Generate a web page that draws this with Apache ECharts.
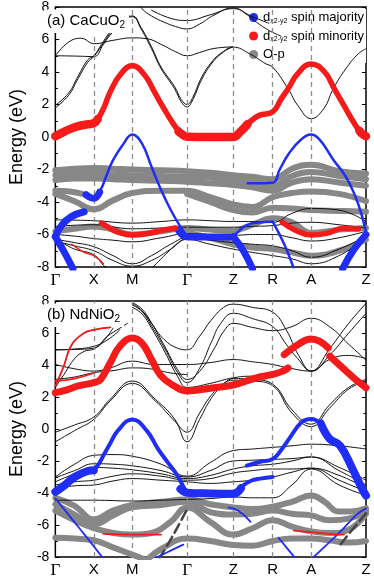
<!DOCTYPE html>
<html>
<head>
<meta charset="utf-8">
<script src="https://cdn.jsdelivr.net/npm/echarts@6/dist/echarts.min.js"></script>
<style>
  html, body { margin: 0; padding: 0; background: #fff; }
  #main { width: 374px; height: 579px; }
</style>
</head>
<body>
<div id="main"></div>
<script>
// k-path (distances along the path)
const kPos = [0, 40, 80, 137, 185, 226, 266, 323];
const kLabels = ['Γ', 'X', 'M', 'Γ', 'Z', 'R', 'A', 'Z'];
const eMin = -8, eMax = 8, eStep = 2;

// ---------- (a) CaCuO2 ----------
const aBlack = [
  [[0,1.8],[13.7,2.56],[23.7,3.6],[33.7,4.6],[40,4.95],[48,5.6],[56,6.3],[66,7.0],[80,7.4],[89,6.66],[100,5.43],[110,4.2],[124,2.97],[131,2.15],[137,1.85],[143,2.3],[151,3.4],[161,4.4],[172,5.1],[185,5.53],[202,5.12],[219,4.5],[226,4.3],[242,2.97],[252,1.95],[266,1.13],[279,1.74],[289,2.97],[302,4.2],[315,5.12],[323,5.43]],
  [[0,1.95],[13.7,2.7],[23.7,3.75],[33.7,4.75],[40,5.0],[48,5.7],[56,6.4],[66,7.1],[80,7.45],[89,6.75],[100,5.55],[110,4.3],[124,3.1],[131,2.3],[137,2.0],[143,2.45],[151,3.55],[161,4.5],[172,5.15],[185,5.55]],
  [[0,5.0],[14,5.85],[27,6.08],[40,5.74],[60,5.95],[80,6.1],[95,6.05],[110,5.7],[125,5.25],[137,5.0],[150,5.2],[165,5.45],[185,5.55]],
  [[0,5.0],[20,4.98],[40,4.95],[50,5.7],[56,6.2],[62,6.6]],
  [[86,8.3],[90,7.9],[100,7.45],[113,7.07],[125,6.8],[137,6.65],[150,6.95],[165,7.5],[185,7.95],[200,7.5],[209,7.07],[222,6.56],[235,6.2]],
  [[100,7.8],[120,7.3],[137,7.17],[160,7.5],[185,7.9],[205,7.4],[222,7.0]],
  [[0,-5.1],[40,-5.15],[80,-5.3],[110,-5.2],[137,-5.1],[161,-5.15],[185,-5.2],[205,-5.2],[226,-5.25],[246,-4.7],[266,-4.4],[295,-4.5],[323,-5.2]],
  [[0,-5.5],[40,-5.4],[80,-5.65],[110,-5.6],[137,-5.55],[161,-5.55],[185,-5.55],[205,-5.5],[226,-5.45],[246,-5.3],[266,-5.25],[295,-5.4],[323,-5.6]],
  [[0,-6.0],[20,-6.1],[40,-6.25],[60,-6.35],[80,-6.45],[110,-6.2],[137,-5.95],[161,-6.0],[185,-6.05],[205,-6.0],[226,-6.0],[246,-6.2],[266,-6.4],[295,-6.2],[323,-5.8]],
  [[0,-6.3],[20,-6.5],[40,-6.75],[60,-7.3],[80,-7.8],[100,-7.3],[120,-6.6],[137,-6.2],[161,-6.35],[185,-6.5],[205,-6.6],[226,-6.7],[246,-7.0],[266,-7.4],[295,-6.9],[323,-6.1]],
  [[0,-6.4],[20,-6.7],[40,-7.0],[60,-7.6],[80,-7.95],[100,-7.6],[120,-6.9],[137,-6.3],[161,-6.6],[185,-6.9],[205,-7.1],[226,-7.3],[246,-7.5],[266,-7.8],[295,-7.3],[323,-6.2]],
  [[0,-6.3],[10,-6.6],[20,-6.9],[40,-7.25],[50,-7.9],[55,-8.1]],
  [[100,-8.1],[115,-7.2],[130,-6.4],[137,-6.2]]
];
const aGray = [
  [[0,-2.05],[20,-1.95],[40,-1.9],[60,-1.95],[80,-2.0],[110,-2.05],[137,-2.1],[161,-2.2],[185,-2.35],[205,-2.45],[226,-2.6],[246,-1.95],[266,-1.7],[295,-2.1],[323,-2.25]],
  [[0,-2.35],[20,-2.25],[40,-2.25],[60,-2.3],[80,-2.35],[110,-2.4],[137,-2.45],[161,-2.5],[185,-2.65],[205,-2.75],[226,-3.0],[246,-2.4],[266,-2.15],[295,-2.4],[323,-2.6]],
  [[0,-2.65],[20,-2.55],[40,-2.55],[60,-2.6],[80,-2.65],[110,-2.7],[137,-2.75],[161,-2.85],[185,-2.95],[205,-3.1],[226,-3.3],[246,-2.8],[266,-2.6],[295,-2.8],[323,-3.0]],
  [[0,-3.3],[15,-3.35],[28,-3.5],[34,-3.65]],
  [[0,-3.5],[20,-3.95],[40,-4.45],[60,-3.9],[80,-3.45],[110,-3.3],[137,-3.3],[161,-3.7],[185,-4.15],[205,-4.3],[226,-3.7],[246,-3.45],[266,-3.35],[295,-3.5],[323,-3.95]],
  [[137,-3.5],[161,-4.0],[185,-4.5],[205,-4.65],[226,-4.35],[246,-4.4],[266,-4.5],[295,-4.55],[323,-4.6]],
  [[0,-5.8],[20,-5.65],[40,-5.5],[60,-5.7],[80,-6.0],[110,-5.8],[137,-5.6],[161,-5.7],[185,-5.75],[205,-5.4],[226,-5.0],[246,-5.25],[266,-5.9],[295,-5.7],[323,-5.6]],
  [[137,-5.9],[161,-6.2],[185,-6.6],[205,-6.8],[226,-6.9],[246,-7.1],[266,-7.3],[295,-7.0],[323,-6.3]]
];
const aRed = [
  [[0,0.05],[10,0.35],[20,0.6],[30,0.75],[40,0.85],[44,1.1],[50,1.74],[57,2.77],[67,3.8],[80,4.4],[93,3.8],[103,2.77],[113,1.74],[124,0.7],[131,0.2],[137,0.02],[160,0.0],[185,0.0],[192,0.3],[202,0.92],[212,1.33],[226,1.55],[235,2.36],[242,2.97],[252,3.9],[266,4.5],[280,4.0],[290,2.97],[300,1.95],[310,0.92],[318,0.25],[323,0.05]],
  [[48,-5.3],[55,-5.55],[65,-5.85],[80,-6.03],[95,-5.95],[110,-5.75],[125,-5.6]],
  [[236,-5.25],[250,-5.75],[266,-6.03],[282,-5.93],[300,-5.62],[315,-5.66]]
];
const aRedFat = [
  [[0,0.05],[10,0.35],[20,0.6],[30,0.75],[40,0.85],[44,1.1]],
  [[128,0.35],[131,0.2],[137,0.02],[160,0.0],[185,0.0],[192,0.3],[200,0.8]],
  [[316,0.4],[318,0.25],[323,0.05]]
];
const aRedThin = [
  [[17,-6.6],[30,-7.1],[40,-7.3],[50,-7.8]]
];
const aBlue = [
  [[30,-3.47],[40,-3.77],[47,-3.26],[54,-2.24],[60,-1.42],[70,-0.49],[80,0.15],[90,-0.39],[100,-1.83],[110,-3.26],[120,-4.49],[130,-5.52],[137,-6.1]],
  [[185,-6.13],[192,-5.72],[199,-5.42],[209,-5.27],[226,-5.21]],
  [[200,-2.85],[226,-2.81],[233,-2.03],[243,-1.0],[255,-0.18],[266,0.15],[275,-0.18],[289,-1.4],[302,-2.44],[312,-3.67],[319,-4.9],[323,-5.9]],
  [[226,-5.21],[238,-6.6],[248,-8.1]]
];
const aBlueFat = [
  [[128,-5.75],[137,-6.15],[160,-6.15],[185,-6.15]],
  [[0,-6.13],[10,-7.16],[18.3,-8.1]],
  [[0,-6.13],[6.7,-5.42],[16.7,-4.9],[30,-4.6]],
  [[185,-6.13],[195,-6.95],[205,-8.1]],
  [[298.7,-8.1],[310,-6.95],[323,-6.0]],
  [[32,-3.55],[40,-3.77],[46,-3.4]]
];

// ---------- (b) NdNiO2 ----------
const bBlack = [
  [[0,4.95],[20,4.97],[40,5.06],[54,5.79],[67,6.3],[75,6.6]],
  [[0,4.95],[20,5.0],[40,5.17],[55,5.6],[67,6.2]],
  [[0,4.03],[23.7,3.72],[40,3.62],[57,3.82],[80,4.24],[103,4.03],[137,4.03],[161,4.15],[185,4.34],[205,4.2],[226,4.03],[242,3.82],[266,3.62],[285,4.34],[305,4.6],[323,4.4]],
  [[0,3.1],[20,3.25],[40,3.52],[60,3.65],[80,3.82],[100,3.75],[120,3.5],[137,3.4]],
  [[0,2.6],[10,3.5],[20,4.4],[30,4.85],[40,5.0],[50,5.5],[60,6.3]],
  [[0,2.7],[8,3.8],[17,5.27],[30,6.0],[40,6.2],[57,6.35]],
  [[80,7.9],[90,7.5],[100.3,6.6],[113.7,5.17],[127,3.72],[137,3.1],[150,3.6],[165,5.0],[175,6.1],[185,6.6],[205,6.35],[226,6.15],[246,6.4],[266,6.92],[285,6.4],[305,5.3],[323,4.3]],
  [[80,7.75],[90,7.35],[100,6.45],[114,5.0],[127,3.55],[137,2.9],[150,3.8],[162,5.4],[172,6.6],[185,7.23],[205,6.9],[226,6.4],[240,5.3],[252,4.4],[266,3.62],[285,4.6],[305,6.0],[323,7.23]],
  [[80,7.6],[90,7.2],[100,6.3],[114,4.8],[127,3.3],[137,2.6],[161,2.85],[185,3.2],[205,3.3],[226,3.3]],
  [[80,7.85],[90,7.4],[100,6.6],[113,5.6],[127,5.05],[137,4.95],[150,5.8],[162,6.8],[175,7.6],[185,7.8],[205,7.6],[226,7.3],[240,6.2],[253,4.6],[266,3.62],[285,5.0],[305,6.6],[323,7.85]],
  [[0,-0.2],[20,0.25],[40,0.75],[57,1.86],[80,3.0],[104,1.86],[124,0.62],[137,-0.8],[150,0.6],[162,1.9],[175,2.8],[185,3.15],[205,3.1],[226,2.8],[246,1.2],[266,0.3],[285,1.5],[305,2.6],[323,3.1]],
  [[0,-0.8],[20,-0.1],[40,0.6],[57,1.75],[80,2.85],[104,1.75],[124,0.5],[137,-0.2],[150,1.0],[162,2.1],[175,2.85],[185,3.05],[205,3.0],[226,2.7],[246,1.0],[266,0.15],[285,1.3],[305,2.5],[323,3.0]],
  [[0,-3.0],[20,-2.2],[40,-1.65],[60,-1.6],[80,-1.7],[110,-2.2],[137,-2.95],[161,-2.1],[185,-1.35],[205,-1.25],[226,-1.15],[246,-1.05],[266,-0.95],[295,-1.05],[323,-1.25]],
  [[0,-3.05],[20,-2.6],[40,-2.17],[60,-2.2],[80,-2.3],[110,-2.6],[137,-3.0],[161,-2.6],[185,-2.0],[205,-1.95],[226,-1.9],[246,-1.85],[266,-1.75],[295,-2.4],[323,-3.2]],
  [[0,-3.3],[20,-2.8],[40,-2.4],[60,-2.45],[80,-2.55],[110,-2.8],[137,-3.1],[161,-2.9],[185,-2.5],[205,-2.3],[226,-2.2],[246,-2.0],[266,-1.75],[295,-2.6],[323,-3.5]],
  [[0,-3.5],[20,-3.3],[40,-3.2],[60,-2.95],[80,-2.8],[110,-2.95],[137,-3.2],[161,-3.1],[185,-2.75],[205,-2.6],[226,-2.5],[246,-2.5],[266,-2.45],[295,-2.9],[323,-3.7]],
  [[0,-3.7],[20,-3.55],[40,-3.5],[60,-3.25],[80,-3.1],[110,-3.2],[137,-3.3],[161,-3.4],[185,-3.3],[205,-3.2],[226,-3.0],[246,-2.7],[266,-2.45],[295,-3.2],[323,-3.9]],
  [[0,-4.45],[40,-4.45],[80,-4.5],[110,-4.45],[137,-4.4],[161,-4.35],[185,-4.25],[205,-4.3],[226,-4.3],[246,-3.5],[266,-2.5],[295,-3.5],[323,-4.15]]
];
const bDiag = [
  [[108,-8.1],[120,-6.9],[131,-5.7],[137,-5.0]],
  [[296.7,-7.2],[310,-6.2],[323,-5.27]]
];
const bGray = [
  [[0,-4.3],[20,-4.8],[40,-5.65],[60,-5.1],[80,-4.75],[110,-4.55],[137,-4.4],[161,-4.7],[185,-4.9],[205,-5.0],[226,-4.85],[246,-4.55],[266,-4.15],[280,-4.55],[294,-5.15],[307,-5.15],[323,-4.95]],
  [[0,-4.7],[20,-5.35],[40,-5.95],[60,-5.4],[80,-4.9],[110,-4.75],[137,-4.55],[161,-5.2],[185,-5.35],[205,-5.3],[226,-5.1],[246,-5.3],[266,-5.4],[285,-5.7],[305,-5.6],[323,-5.1]],
  [[0,-5.1],[20,-5.7],[40,-6.2],[60,-6.5],[80,-6.6],[100,-6.5],[120,-5.8],[137,-4.9],[161,-5.8],[185,-6.6],[205,-6.2],[226,-5.7],[246,-6.1],[266,-6.4],[285,-6.5],[305,-6.3],[323,-5.3]],
  [[0,-6.8],[20,-6.85],[40,-6.95],[60,-7.4],[80,-7.85],[95,-8.2]],
  [[95,-8.2],[110,-7.5],[137,-6.85],[161,-7.0],[185,-7.25],[205,-7.3],[226,-7.0],[246,-6.85],[266,-6.85],[285,-6.95],[305,-7.1],[323,-7.0]]
];
const bRed = [
  [[0,2.27],[12,2.45],[23.7,2.69],[40,2.9],[47,3.1],[57,4.13],[67,5.17],[80,5.68],[90,5.37],[100,4.34],[110,3.31],[123.7,2.69],[137,2.38],[161,2.55],[185,2.75],[209,3.2],[226,3.41],[236,3.6],[242,3.82]],
  [[238,4.65],[252,5.27],[266,5.62],[275,5.48],[283.7,5.07]],
  [[285.3,4.55],[298.7,3.82],[312,3.1],[323,2.58]]
];
const bRedThin = [
  [[0,3.0],[20,3.15],[40,3.5]],
  [[0,2.7],[8,3.8],[17,5.27],[30,6.0],[40,6.2],[57,6.35]],
  [[50,-6.55],[80,-6.6],[110,-6.6]],
  [[248,-6.35],[266,-6.45],[285,-6.55],[300,-6.6]]
];
const bBlueFat = [
  [[0,-3.93],[10,-3.5],[20,-3.0],[33,-2.64],[40,-2.58]],
  [[130,-3.75],[137,-3.98],[161,-4.03],[185,-4.05],[193,-3.7]],
  [[276,0.35],[285,-0.6],[296,-1.04],[309,-2.5],[319,-3.74],[323,-4.16]]
];
const bBlue = [
  [[40,-2.58],[45,-2.2],[50,-1.65],[57,-0.9],[65,-0.1],[80,0.6],[95,-0.1],[106.7,-1.24],[116.7,-2.07],[126.7,-2.89],[133.3,-3.62],[137,-3.93]],
  [[185,-4.05],[193,-3.62],[203,-3.25],[213,-3.1],[226,-3.0]],
  [[199,-2.29],[213,-2.05],[226,-1.87],[235,-1.3],[243,-0.62],[256,0.42],[266,0.62],[276,0.35]]
];
const bBlueThin = [
  [[0,-4.34],[25,-6.2],[50,-8.1]],
  [[103,-8.1],[120,-7.6],[133,-7.23]],
  [[180,-4.9],[190,-5.1],[203,-5.8]],
  [[232,-6.8],[243,-7.6],[250,-8.1]],
  [[266.7,-8.1],[296.7,-6.4],[313,-5.37],[323,-4.96]]
];

const BLUE = '#1f2df5', RED = '#f51b1b', GRAY = '#878787';
const chart = echarts.init(document.getElementById('main'), null, { renderer: 'canvas' });
const series = [];

function addBands(list, gi, opt) {
  list.forEach(function (d) {
    series.push({
      type: 'line', name: opt.name || 'band', xAxisIndex: gi, yAxisIndex: gi * 2,
      data: d, smooth: 0.45, symbol: 'none', silent: true,
      color: opt.color, z: opt.z,
      lineStyle: { color: opt.color, width: opt.width, type: opt.type || 'solid', cap: 'round', join: 'round' }
    });
  });
}

[0, 1].forEach(function (gi) {
  series.push({
    type: 'line', xAxisIndex: gi, yAxisIndex: gi * 2, data: [], silent: true, z: 1,
    markLine: {
      silent: true, symbol: ['none', 'none'], label: { show: false },
      lineStyle: { type: [5, 4], color: '#8c8c8c', width: 1.3 },
      data: kPos.slice(1, 7).map(function (v) { return { xAxis: v }; })
    }
  });
});

addBands(aGray, 0, { name: 'Op', color: GRAY, width: 6, z: 3 });
addBands(aBlack, 0, { color: '#111', width: 1, z: 4 });
addBands(aBlue, 0, { name: 'maj', color: BLUE, width: 2.5, z: 5 });
addBands(aBlueFat, 0, { name: 'maj', color: BLUE, width: 7, z: 5 });
addBands(aRed, 0, { name: 'min', color: RED, width: 5.5, z: 6 });
addBands(aRedFat, 0, { name: 'min', color: RED, width: 8.5, z: 6 });
addBands(aRedThin, 0, { name: 'min', color: RED, width: 1.5, z: 6 });

addBands(bGray, 1, { name: 'Op', color: GRAY, width: 6, z: 3 });
addBands(bBlack, 1, { color: '#111', width: 1, z: 4 });
addBands(bDiag, 1, { color: '#444', width: 2.5, z: 4, type: 'dashed' });
addBands(bBlueThin, 1, { name: 'maj', color: BLUE, width: 1.8, z: 5 });
addBands(bBlue, 1, { name: 'maj', color: BLUE, width: 4, z: 5 });
addBands(bBlueFat, 1, { name: 'maj', color: BLUE, width: 8, z: 5 });
addBands(bRedThin, 1, { name: 'min', color: RED, width: 1.8, z: 6 });
addBands(bRed, 1, { name: 'min', color: RED, width: 7, z: 6 });

const grids = [
  { left: 43, top: 7, width: 323, height: 260 },
  { left: 43, top: 301, width: 323, height: 258 }
];

function xAxisFor(gi) {
  return {
    type: 'value', gridIndex: gi, min: 0, max: 323,
    axisLine: { show: false }, axisTick: { show: false }, splitLine: { show: false },
    axisLabel: {
      customValues: kPos, margin: 5, color: '#000', fontSize: 15,
      fontFamily: 'Liberation Sans',
      formatter: function (v) {
        const i = kPos.indexOf(v);
        if (i < 0) return '';
        return kLabels[i] === 'Γ' ? '{g|Γ}' : kLabels[i];
      },
      rich: { g: { fontFamily: 'Liberation Serif', fontSize: 17, color: '#000' } }
    }
  };
}
function yAxisFor(gi, right) {
  return {
    type: 'value', gridIndex: gi, min: eMin, max: eMax, interval: eStep,
    position: right ? 'right' : 'left',
    name: right ? '' : 'Energy (eV)', nameLocation: 'middle', nameGap: 25,
    nameTextStyle: { fontSize: 18, fontFamily: 'Liberation Sans', color: '#000' },
    axisLine: { show: false },
    axisTick: { show: true, inside: true, length: 4, lineStyle: { color: '#000', width: 1 } },
    minorTick: { show: true, splitNumber: 2, length: 2.5, lineStyle: { color: '#000' } },
    splitLine: { show: false },
    axisLabel: { show: !right, color: '#000', fontSize: 14, fontFamily: 'Liberation Sans', margin: 6 }
  };
}

const titleRich = {
  t: { fontSize: 15, fontFamily: 'Liberation Sans', fontWeight: 'normal', color: '#000', lineHeight: 18 },
  s: { fontSize: 10, fontFamily: 'Liberation Sans', fontWeight: 'normal', color: '#000', padding: [8, 0, 0, 0] }
};

const option = {
  animation: false,
  backgroundColor: '#fff',
  grid: grids.map(function (g) {
    return Object.assign({ show: true, borderColor: '#000', borderWidth: 1.5, backgroundColor: 'transparent' }, g);
  }),
  xAxis: [xAxisFor(0), xAxisFor(1)],
  yAxis: [yAxisFor(0, false), yAxisFor(0, true), yAxisFor(1, false), yAxisFor(1, true)],
  title: [
    {
      text: '{t|(a) CaCuO}{s|2}', left: 44, top: 8, backgroundColor: '#fff', padding: [4, 4, 3, 3],
      textStyle: { fontWeight: 'normal', rich: titleRich }
    },
    {
      text: '{t|(b) NdNiO}{s|2}', left: 44, top: 302, backgroundColor: '#fff', padding: [4, 4, 3, 3],
      textStyle: { fontWeight: 'normal', rich: titleRich }
    }
  ],
  legend: {
    data: ['maj', 'min', 'Op'], orient: 'vertical', right: 8, top: 9,
    icon: 'circle', itemWidth: 9, itemHeight: 9, itemGap: 5, selectedMode: false,
    backgroundColor: '#fff', padding: [2, 2, 2, 4],
    formatter: function (n) {
      if (n === 'maj') return '{d|d}{s|x2-y2}{t| spin majority}';
      if (n === 'min') return '{d|d}{s|x2-y2}{t| spin minority}';
      return '{t|O-p}';
    },
    textStyle: { rich: {
      d: { fontSize: 13, fontFamily: 'Liberation Sans', color: '#000', lineHeight: 15 },
      s: { fontSize: 7, fontFamily: 'Liberation Sans', color: '#000', padding: [7, 0, 0, 0] },
      t: { fontSize: 13, fontFamily: 'Liberation Sans', color: '#000', lineHeight: 15 }
    } }
  },
  series: series
};
chart.setOption(option);
</script>
</body>
</html>
